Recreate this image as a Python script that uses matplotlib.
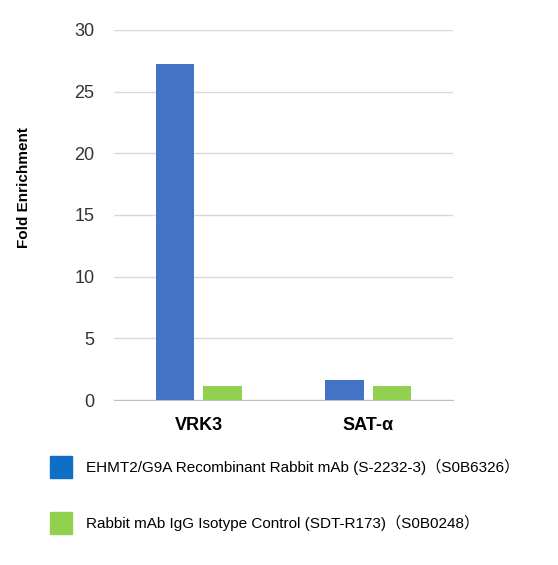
import matplotlib
matplotlib.use("Agg")
import matplotlib.pyplot as plt
import numpy as np
from matplotlib.patches import Rectangle

plt.rcParams['font.family'] = ['Liberation Sans', 'Noto Sans CJK SC', 'DejaVu Sans']

categories = ["VRK3", "SAT-α"]
series_names = ["EHMT2/G9A Recombinant Rabbit mAb (S-2232-3)（S0B6326）",
                "Rabbit mAb IgG Isotype Control (SDT-R173)（S0B0248）"]
ehmt2 = [27.2, 1.6]
igg = [1.1, 1.1]
colors = ["#4472C4", "#92D050"]
legend_colors = ["#0F6FC6", "#92D050"]
yticks = [0, 5, 10, 15, 20, 25, 30]

fig = plt.figure(figsize=(5.58, 5.65), dpi=100)
ax = fig.add_axes([0.204, 0.292, 0.608, 0.655])
x = np.arange(len(categories))
w = 0.226
ax.bar(x - 0.14, ehmt2, w, color=colors[0], zorder=3)
ax.bar(x + 0.14, igg, w, color=colors[1], zorder=3)
ax.set_xlim(-0.5, 1.5)
ax.set_ylim(0, 30)
ax.set_yticks(yticks)
ax.yaxis.grid(True, color="#D9D9D9", lw=1, zorder=0)
for s in ["top", "right", "left"]:
    ax.spines[s].set_visible(False)
ax.spines["bottom"].set_color("#BFBFBF")
ax.tick_params(axis="both", length=0, labelsize=13)
ax.tick_params(axis="y", pad=14, colors="#333333")
ax.set_xticks(x)
ax.set_xticklabels(categories, fontsize=13, fontweight="bold")
ax.tick_params(axis="x", pad=12)
ax.set_ylabel("Fold Enrichment", fontsize=11, fontweight="bold", labelpad=28)
ax.yaxis.set_label_coords(-0.245, 0.573)

for i, (name, c) in enumerate(zip(series_names, legend_colors)):
    ytop = 456 + i * 56
    fig.patches.append(Rectangle((50 / 558, 1 - (ytop + 22) / 565), 22 / 558, 22 / 565,
                                 transform=fig.transFigure, color=c, figure=fig))
    fig.text(86 / 558, 1 - (ytop + 11) / 565, name, fontsize=11, va="center", ha="left")

fig.savefig("out.png", dpi=100)
